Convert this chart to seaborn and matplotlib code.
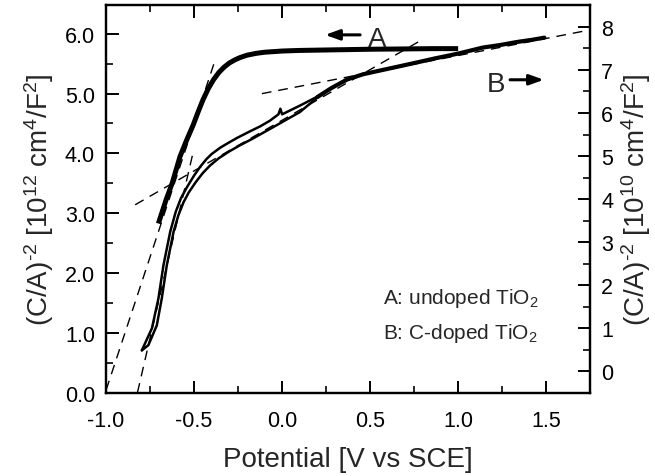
import matplotlib
matplotlib.use("Agg")
import matplotlib.pyplot as plt
import seaborn as sns
import pandas as pd

# ---------------- data ----------------
# Curve A: undoped TiO2, left axis [1e12 cm^4/F^2]
a_x = [-0.703, -0.66, -0.625, -0.58, -0.54, -0.506, -0.475, -0.449, -0.42,
       -0.39, -0.36, -0.33, -0.30, -0.27, -0.24, -0.20, -0.15, -0.10,
       0.0, 0.10, 0.30, 0.50, 0.70, 0.85, 1.00]
a_y = [2.83, 3.22, 3.50, 3.95, 4.24, 4.47, 4.71, 4.90, 5.08,
       5.23, 5.35, 5.44, 5.51, 5.56, 5.60, 5.64, 5.67, 5.69,
       5.71, 5.72, 5.73, 5.74, 5.745, 5.75, 5.75]

# Curve B: C-doped TiO2, right axis [1e10 cm^4/F^2] -- two scan branches
b1_x = [-0.797, -0.74, -0.703, -0.674, -0.636, -0.605, -0.575, -0.542,
        -0.50, -0.466, -0.43, -0.40, -0.35, -0.30, -0.257, -0.19, -0.125,
        -0.07, -0.021, -0.01, 0.0, 0.05, 0.10, 0.20]
b1_y = [0.49, 1.00, 1.69, 2.47, 3.24, 3.70, 4.02, 4.27,
        4.55, 4.75, 4.93, 5.05, 5.20, 5.32, 5.42, 5.56, 5.69,
        5.82, 5.97, 6.10, 5.97, 6.07, 6.17, 6.38]
b2_x = [-0.797, -0.76, -0.712, -0.684, -0.655, -0.617, -0.59, -0.56,
        -0.53, -0.49, -0.45, -0.41, -0.36, -0.30, -0.24, -0.17, -0.10,
        -0.03, 0.03, 0.10, 0.20]
b2_y = [0.49, 0.61, 1.07, 1.69, 2.47, 3.24, 3.62, 3.93,
        4.16, 4.40, 4.61, 4.78, 4.95, 5.11, 5.25, 5.40, 5.56,
        5.72, 5.86, 6.02, 6.36]
b3_x = [0.20, 0.28, 0.37, 0.46, 0.56, 0.65, 0.75, 0.87, 1.00, 1.14, 1.24,
        1.335, 1.42, 1.49]
b3_y = [6.37, 6.58, 6.78, 6.90, 6.99, 7.07, 7.16, 7.27, 7.38, 7.52, 7.58,
        7.65, 7.70, 7.75]

# Tangent (fit) lines
fitA_x = [-1.0, -0.385]          # left axis
fitA_y = [0.05, 5.52]
fitB1_x = [-0.822, -0.505]       # right axis
fitB1_y = [-0.49, 5.10]
fitB2_x = [-0.835, 0.79]         # right axis
fitB2_y = [3.87, 7.69]
fitB3_x = [-0.115, 1.75]         # right axis
fitB3_y = [6.45, 7.93]

x_ticks = [-1.0, -0.5, 0.0, 0.5, 1.0, 1.5]
x_ticklabels = ["-1.0", "-0.5", "0.0", "0.5", "1.0", "1.5"]
yl_ticks = [0, 1, 2, 3, 4, 5, 6]
yl_ticklabels = ["0.0", "1.0", "2.0", "3.0", "4.0", "5.0", "6.0"]
yr_ticks = [0, 1, 2, 3, 4, 5, 6, 7, 8]
yr_ticklabels = ["0", "1", "2", "3", "4", "5", "6", "7", "8"]

# ---------------- style ----------------
sns.set_theme(style="ticks")
plt.rcParams["font.family"] = ["Liberation Sans", "DejaVu Sans"]
plt.rcParams["mathtext.fontset"] = "custom"
plt.rcParams["mathtext.rm"] = "Liberation Sans"
plt.rcParams["mathtext.it"] = "Liberation Sans:italic"
plt.rcParams["mathtext.bf"] = "Liberation Sans:bold"
plt.rcParams["axes.unicode_minus"] = False

fig = plt.figure(figsize=(6.55, 4.77), dpi=100)
ax = fig.add_axes([0.162, 0.174, 0.739, 0.8136])
ax2 = ax.twinx()

dash = dict(color="black", lw=1.0, dashes=(7, 5))

# Curve A on left axis
sns.lineplot(data=pd.DataFrame({"x": a_x, "y": a_y}), x="x", y="y", ax=ax,
             sort=False, estimator=None, color="black", lw=3.6,
             solid_capstyle="butt", solid_joinstyle="round")
sns.lineplot(data=pd.DataFrame({"x": fitA_x, "y": fitA_y}), x="x", y="y",
             ax=ax, sort=False, estimator=None, **dash)

# Curve B on right axis
for bx, by, lw in [(b1_x, b1_y, 1.8), (b2_x, b2_y, 1.8), (b3_x, b3_y, 3.0)]:
    sns.lineplot(data=pd.DataFrame({"x": bx, "y": by}), x="x", y="y", ax=ax2,
                 sort=False, estimator=None, color="black", lw=lw,
                 solid_joinstyle="round")
for fx, fy in [(fitB1_x, fitB1_y), (fitB2_x, fitB2_y), (fitB3_x, fitB3_y)]:
    sns.lineplot(data=pd.DataFrame({"x": fx, "y": fy}), x="x", y="y", ax=ax2,
                 sort=False, estimator=None, **dash)

ax.set_xlim(-1.0, 1.75)
ax.set_ylim(0.0, 6.48)
ax2.set_ylim(-0.49, 8.51)

ax.set_xticks(x_ticks)
ax.set_xticklabels(x_ticklabels)
ax.set_xticks([-0.75, -0.25, 0.25, 0.75, 1.25], minor=True)
ax.set_yticks(yl_ticks)
ax.set_yticklabels(yl_ticklabels)
ax.set_yticks([0.5, 1.5, 2.5, 3.5, 4.5, 5.5], minor=True)
ax2.set_yticks(yr_ticks)
ax2.set_yticklabels(yr_ticklabels)
ax2.set_yticks([-0.5, 0.5, 1.5, 2.5, 3.5, 4.5, 5.5, 6.5, 7.5], minor=True)

for a in (ax, ax2):
    for s in a.spines.values():
        s.set_linewidth(1.6)
        s.set_visible(True)
        s.set_color("black")

ax.tick_params(axis="x", which="major", direction="in", length=9, width=1.4,
               top=True, labelsize=15.5, pad=12, colors="black")
ax.tick_params(axis="x", which="minor", direction="in", length=5, width=1.4,
               top=True)
ax.tick_params(axis="y", which="major", direction="in", length=9, width=1.4,
               right=False, labelsize=15.5, pad=8, colors="black")
ax.tick_params(axis="y", which="minor", direction="in", length=5, width=1.4,
               right=False)
ax2.tick_params(axis="y", which="major", direction="in", length=9, width=1.4,
                labelsize=15.5, pad=8, colors="black")
ax2.tick_params(axis="y", which="minor", direction="in", length=5, width=1.4)

ax.set_xlabel("Potential [V vs SCE]", fontsize=20, labelpad=11)
ax.set_ylabel(r"(C/A)$^{\text{-2}}$ [10$^{12}$ cm$^{4}$/F$^{2}$]",
              fontsize=20, labelpad=6)
ax2.set_ylabel(r"(C/A)$^{\text{-2}}$ [10$^{10}$ cm$^{4}$/F$^{2}$]",
               fontsize=20, rotation=90, labelpad=4)

# Annotations
arrow = dict(arrowstyle="-|>,head_length=0.5,head_width=0.18", lw=2.2,
             color="black", mutation_scale=17, shrinkA=0, shrinkB=0)
ax.annotate("", xy=(0.244, 5.98), xytext=(0.443, 5.98), arrowprops=arrow)
ax.text(0.489, 5.80, "A", fontsize=20, ha="left", va="baseline")
ax.annotate("", xy=(1.487, 5.23), xytext=(1.295, 5.23), arrowprops=arrow)
ax.text(1.165, 5.04, "B", fontsize=20, ha="left", va="baseline")

ax.text(0.574, 1.50, r"A: undoped TiO$_2$", fontsize=15, ha="left",
        va="baseline")
ax.text(0.574, 0.917, r"B: C-doped TiO$_2$", fontsize=15, ha="left",
        va="baseline")

fig.savefig("out.png", dpi=100)
